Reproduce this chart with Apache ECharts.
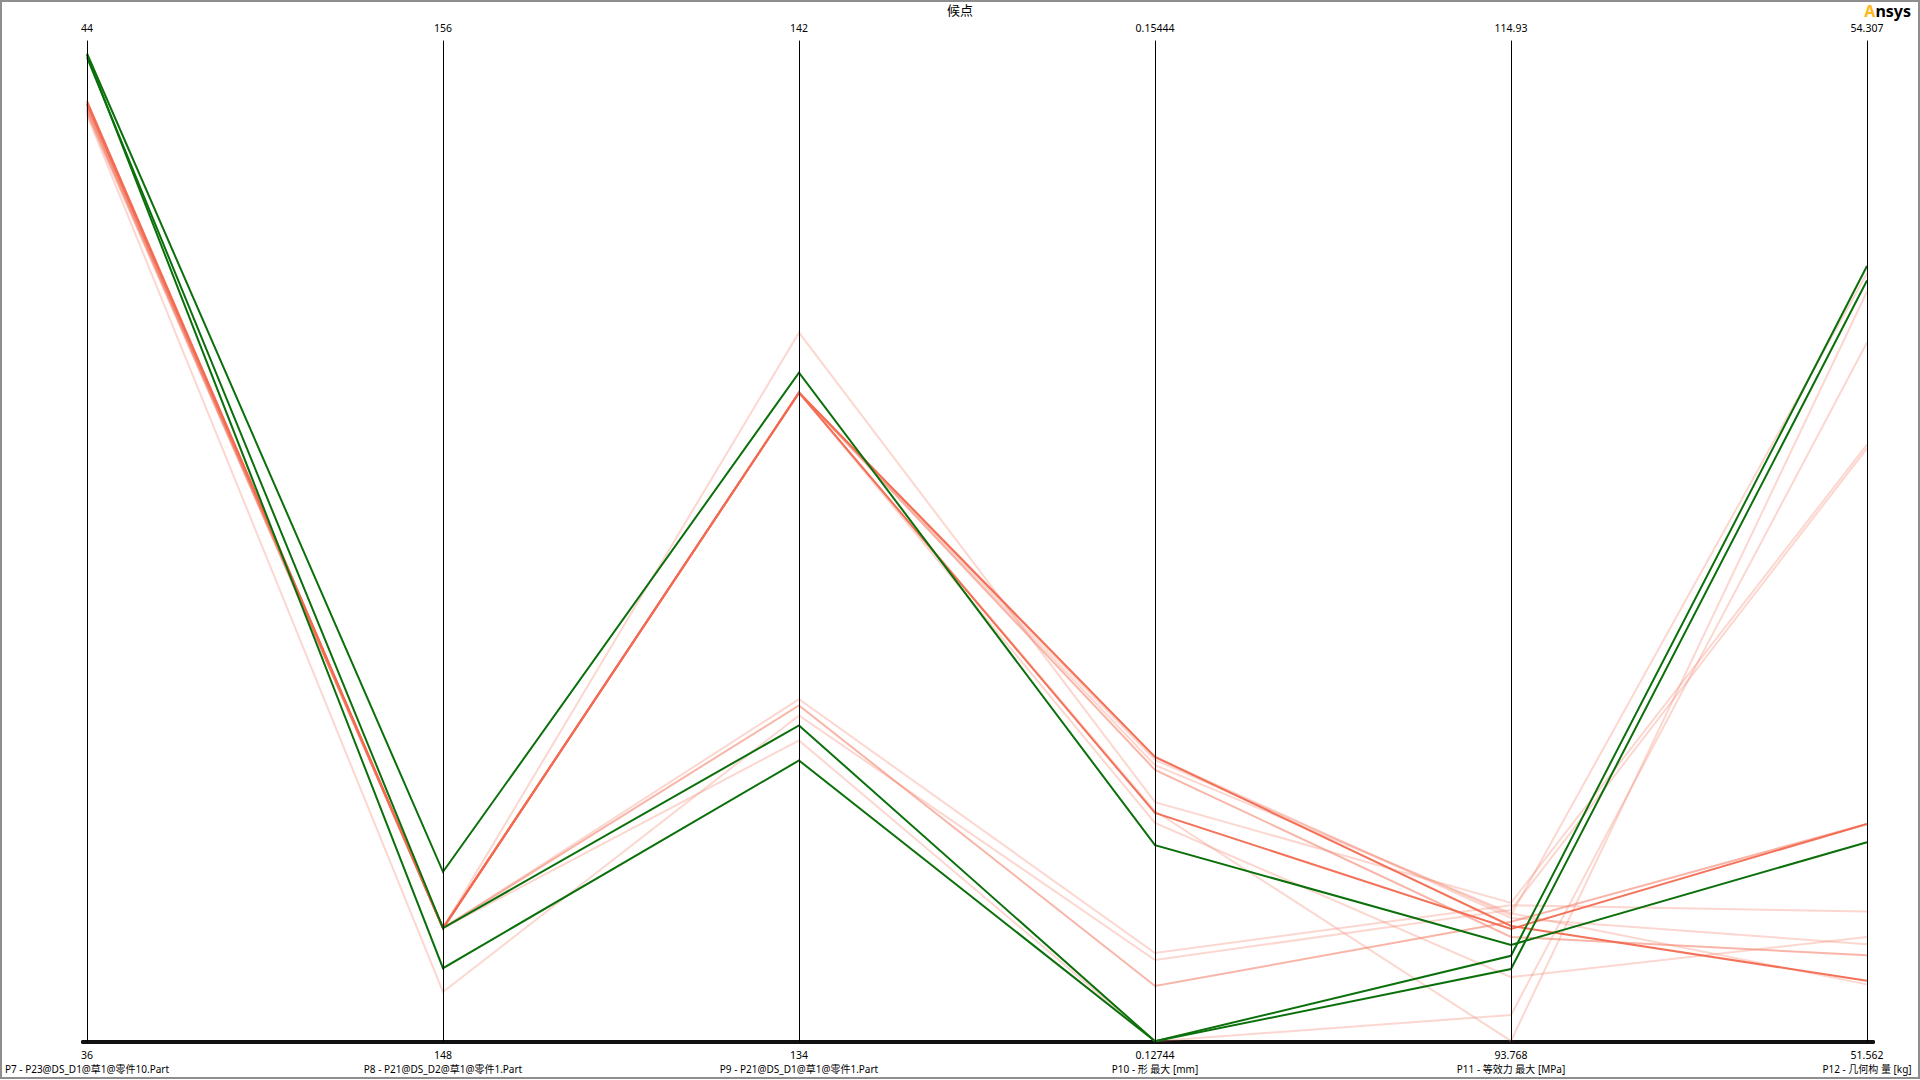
<!DOCTYPE html>
<html>
<head>
<meta charset="utf-8">
<title>候点</title>
<script src="https://cdn.jsdelivr.net/npm/echarts@6/dist/echarts.min.js"></script>
<style>
    html, body { margin: 0; padding: 0; background: #fff; }
    #chart { width: 1920px; height: 1080px; }
</style>
</head>
<body>
<div id="chart"></div>
<script>
    // axis names, in order
    var axisNames = [
        'P7 - P23@DS_D1@草1@零件10.Part',
        'P8 - P21@DS_D2@草1@零件1.Part',
        'P9 - P21@DS_D1@草1@零件1.Part',
        'P10 - 形 最大 [mm]',
        'P11 - 等效力 最大 [MPa]',
        'P12 - 几何构 量 [kg]'
    ];
    // tick labels (top = max, bottom = min)
    var axisMaxLabels = ['44', '156', '142', '0.15444', '114.93', '54.307'];
    var axisMinLabels = ['36', '148', '134', '0.12744', '93.768', '51.562'];

    // candidate points (green)
    var candidateRows = [
        [43.90, 149.36, 139.35, 0.13275, 95.82, 52.11],
        [43.87, 148.91, 136.53, 0.12746, 95.59, 53.69],
        [43.89, 148.59, 136.25, 0.12746, 95.31, 53.65]
    ];
    // samples drawn in strong red
    var strongRows = [
        [43.52, 148.91, 139.19, 0.13513, 96.22, 51.73],
        [43.50, 148.91, 139.19, 0.13362, 96.16, 52.16]
    ];
    // samples drawn in medium red
    var mediumRows = [
        [43.49, 148.91, 139.19, 0.13478, 95.99, 51.80],
        [43.50, 148.91, 136.69, 0.12895, 96.31, 52.16]
    ];
    // samples drawn in faint pink
    var faintRows = [
        [43.47, 148.91, 139.19, 0.13513, 96.39, 51.83],
        [43.45, 148.91, 139.19, 0.13367, 93.79, 53.62],
        [43.44, 148.91, 139.67, 0.13391, 96.71, 53.20],
        [43.46, 148.91, 139.19, 0.13335, 95.14, 51.85],
        [43.46, 148.91, 139.19, 0.13491, 96.49, 51.72],
        [43.48, 148.91, 139.19, 0.13505, 96.45, 53.67],
        [43.43, 148.91, 136.74, 0.12984, 96.66, 51.92],
        [43.41, 148.40, 136.61, 0.12965, 96.56, 53.19],
        [43.42, 148.91, 136.41, 0.12746, 94.34, 53.48]
    ];

    var fontFamily = "'Noto Sans', 'Noto Sans CJK SC', sans-serif";
    var myChart = echarts.init(document.getElementById('chart'), null, {renderer: 'svg'});

    var hiddenAxisParts = {
        axisLine: {show: true, lineStyle: {color: '#000', width: 1}},
        axisTick: {show: false},
        axisLabel: {show: false, formatter: function () { return ''; }},
        splitLine: {show: false}
    };

    var parallelAxis = axisNames.map(function (name, i) {
        return Object.assign({
            dim: i,
            name: '',
            min: parseFloat(axisMinLabels[i]),
            max: parseFloat(axisMaxLabels[i])
        }, hiddenAxisParts);
    });

    function lineSeries(rows, color, opacity, z) {
        return {
            type: 'parallel',
            data: rows,
            z: z,
            silent: true,
            lineStyle: {color: color, width: 2, opacity: opacity},
            emphasis: {disabled: true}
        };
    }

    var option = {
        animation: false,
        backgroundColor: '#fff',
        textStyle: {fontFamily: fontFamily},
        title: {
            text: '候点',
            left: 'center',
            top: 3,
            padding: 0,
            textStyle: {fontSize: 13, fontWeight: 'normal', color: '#000', fontFamily: fontFamily}
        },
        grid: [
            // thick top / bottom rules
            {left: 83, right: 47, top: 41, bottom: 38, containLabel: false, outerBoundsMode: 'none'},
            // labels above and below each parallel axis
            {left: 87, right: 53, top: 41, bottom: 38, containLabel: false, outerBoundsMode: 'none'}
        ],
        xAxis: [
            {
                gridIndex: 0, type: 'value', position: 'top',
                axisLine: {lineStyle: {color: '#000', width: 4}},
                axisTick: {show: false}, axisLabel: {show: false}, splitLine: {show: false}
            },
            {
                gridIndex: 0, type: 'value', position: 'bottom',
                axisLine: {lineStyle: {color: '#111', width: 4}},
                axisTick: {show: false}, axisLabel: {show: false}, splitLine: {show: false}
            },
            {
                gridIndex: 1, type: 'category', position: 'top',
                data: axisMaxLabels, boundaryGap: false,
                axisLine: {show: false}, axisTick: {show: false},
                axisLabel: {interval: 0, margin: 8, fontSize: 10.5, color: '#000', fontFamily: fontFamily}
            },
            {
                gridIndex: 1, type: 'category', position: 'bottom',
                data: axisMinLabels, boundaryGap: false,
                axisLine: {show: false}, axisTick: {show: false},
                axisLabel: {
                    interval: 0, margin: 6, color: '#000', fontFamily: fontFamily,
                    formatter: function (value, index) {
                        return '{v|' + value + '}\n{n|' + axisNames[index] + '}';
                    },
                    rich: {
                        v: {fontSize: 10.5, lineHeight: 14, fontFamily: fontFamily},
                        n: {fontSize: 10, lineHeight: 14, fontFamily: fontFamily}
                    }
                }
            }
        ],
        yAxis: [
            {gridIndex: 0, type: 'value', show: false},
            {gridIndex: 1, type: 'value', show: false}
        ],
        parallel: {
            left: 87, right: 53, top: 41, bottom: 38,
            parallelAxisDefault: hiddenAxisParts
        },
        parallelAxis: parallelAxis,
        series: [
            lineSeries(faintRows, '#f4846e', 0.32, 2),
            lineSeries(mediumRows, '#f4846e', 0.6, 3),
            lineSeries(strongRows, '#f26a50', 0.95, 4),
            lineSeries(candidateRows, '#0b700b', 1, 5)
        ],
        graphic: [
            {
                type: 'rect', silent: true, z: 100,
                shape: {x: 1, y: 1, width: 1918, height: 1077},
                style: {fill: 'none', stroke: '#8e8e8e', lineWidth: 2}
            },
            {
                type: 'text', right: 9, top: 3, z: 100,
                style: {
                    text: '{a|A}{b|nsys}',
                    rich: {
                        a: {fill: '#ffb71b', fontSize: 16, lineHeight: 18, fontWeight: 'bold', fontFamily: fontFamily},
                        b: {fill: '#000', fontSize: 16, lineHeight: 18, fontWeight: 'bold', fontFamily: fontFamily}
                    }
                }
            }
        ]
    };
    myChart.setOption(option);
</script>
</body>
</html>
